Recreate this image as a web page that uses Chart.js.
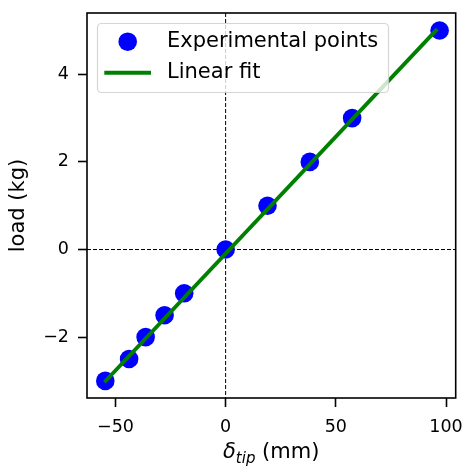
<!DOCTYPE html>
<html>
<head>
<meta charset="utf-8">
<script src="https://cdn.jsdelivr.net/npm/chart.js@4.4.0/dist/chart.umd.min.js"></script>
<style>
  html, body { margin: 0; padding: 0; background: #fff; }
  #wrap { width: 465px; height: 466px; }
</style>
</head>
<body>
<div id="wrap"><canvas id="chart" width="465" height="466"></canvas></div>
<script>
// datos
const deltaTip = [-54.6, -43.8, -36.3, -27.7, -18.8, 0, 19.0, 38.2, 57.4, 97.1];
const carga = [-3, -2.5, -2, -1.5, -1, 0, 1, 2, 3, 5];
const ajusteX = [-55, 96];
const ajusteY = [-3.03, 5.03];
const xTicks = [-50, 0, 50, 100];
const yTicks = [-2, 0, 2, 4];
const xRango = [-62.9, 104.4];
const yRango = [-3.39, 5.40];

const FONT = '"DejaVu Sans", sans-serif';
const menos = v => String(v).replace('-', '\u2212');

// sin padding extra por las etiquetas, el area la fija el layout
const sinPadding = s => { s.paddingTop = 0; s.paddingBottom = 0; s.paddingLeft = 0; s.paddingRight = 0; };

// lineas punteadas en x=0 e y=0
const ejesCero = {
  id: 'ejesCero',
  beforeDatasetsDraw(chart) {
    const { ctx, chartArea: a, scales } = chart;
    const x0 = scales.x.getPixelForValue(0);
    const y0 = scales.y.getPixelForValue(0);
    ctx.save();
    ctx.strokeStyle = '#000';
    ctx.lineWidth = 1;
    ctx.setLineDash([4, 2]);
    ctx.beginPath();
    ctx.moveTo(x0, a.top); ctx.lineTo(x0, a.bottom);
    ctx.moveTo(a.left, y0); ctx.lineTo(a.right, y0);
    ctx.stroke();
    ctx.restore();
  }
};

// marco, titulos y leyenda
const extras = {
  id: 'extras',
  afterDraw(chart) {
    const { ctx, chartArea: a } = chart;
    ctx.save();
    // marco
    ctx.strokeStyle = '#000';
    ctx.lineWidth = 1.6;
    ctx.strokeRect(a.left, a.top, a.right - a.left, a.bottom - a.top);

    // titulo eje y
    ctx.fillStyle = '#000';
    ctx.font = '21px ' + FONT;
    ctx.textAlign = 'center';
    ctx.textBaseline = 'middle';
    ctx.save();
    ctx.translate(19, (a.top + a.bottom) / 2);
    ctx.rotate(-Math.PI / 2);
    ctx.fillText('load (kg)', 0, 0);
    ctx.restore();

    // titulo eje x: δ_tip (mm)
    ctx.textAlign = 'left';
    ctx.textBaseline = 'alphabetic';
    const base = 458;
    let x = 223;
    ctx.font = 'italic 21px ' + FONT;
    ctx.fillText('\u03b4', x, base);
    x += ctx.measureText('\u03b4').width;
    ctx.font = 'italic 15px ' + FONT;
    ctx.fillText('tip', x, base + 4.5);
    x += ctx.measureText('tip').width;
    ctx.font = '21px ' + FONT;
    ctx.fillText(' (mm)', x, base);

    // leyenda
    const lx = 97.5, ly = 23.5, lw = 291, lh = 69;
    ctx.beginPath();
    ctx.roundRect(lx, ly, lw, lh, 4);
    ctx.fillStyle = 'rgba(255,255,255,0.8)';
    ctx.fill();
    ctx.strokeStyle = 'rgba(204,204,204,0.8)';
    ctx.lineWidth = 1.2;
    ctx.stroke();

    ctx.fillStyle = '#0000ff';
    ctx.beginPath();
    ctx.arc(127.7, 41.7, 9.3, 0, Math.PI * 2);
    ctx.fill();

    ctx.strokeStyle = '#008000';
    ctx.lineWidth = 3.9;
    ctx.beginPath();
    ctx.moveTo(104.3, 72.7); ctx.lineTo(151, 72.7);
    ctx.stroke();

    ctx.fillStyle = '#000';
    ctx.font = '21px ' + FONT;
    ctx.textBaseline = 'middle';
    ctx.fillText('Experimental points', 167, 41.7);
    ctx.fillText('Linear fit', 167, 72.7);
    ctx.restore();
  }
};

new Chart(document.getElementById('chart'), {
  type: 'scatter',
  data: {
    datasets: [
      {
        label: 'Experimental points',
        data: deltaTip.map((v, i) => ({ x: v, y: carga[i] })),
        backgroundColor: '#0000ff',
        borderWidth: 0,
        pointRadius: 9.3,
        pointHoverRadius: 9.3,
        order: 2
      },
      {
        label: 'Linear fit',
        type: 'line',
        data: ajusteX.map((v, i) => ({ x: v, y: ajusteY[i] })),
        borderColor: '#008000',
        borderWidth: 3.9,
        pointRadius: 0,
        fill: false,
        order: 1
      }
    ]
  },
  options: {
    responsive: false,
    animation: false,
    events: [],
    layout: { padding: { left: 0, right: 9, top: 13, bottom: 0 } },
    plugins: { legend: { display: false }, tooltip: { enabled: false } },
    scales: {
      x: {
        type: 'linear',
        min: xRango[0], max: xRango[1],
        afterBuildTicks: s => { s.ticks = xTicks.map(v => ({ value: v })); },
        afterFit: s => { s.height = 68; sinPadding(s); },
        grid: { drawOnChartArea: false, drawTicks: true, tickLength: 9, tickWidth: 1.6, color: '#000' },
        border: { display: false },
        ticks: { color: '#000', padding: 10, maxRotation: 0, font: { family: FONT, size: 17.5 }, callback: v => menos(v) }
      },
      y: {
        type: 'linear',
        min: yRango[0], max: yRango[1],
        afterBuildTicks: s => { s.ticks = yTicks.map(v => ({ value: v })); },
        afterFit: s => { s.width = 87; sinPadding(s); },
        grid: { drawOnChartArea: false, drawTicks: true, tickLength: 9, tickWidth: 1.6, color: '#000' },
        border: { display: false },
        ticks: { color: '#000', padding: 9, font: { family: FONT, size: 17.5 }, callback: v => menos(v) }
      }
    }
  },
  plugins: [ejesCero, extras]
});
</script>
</body>
</html>
